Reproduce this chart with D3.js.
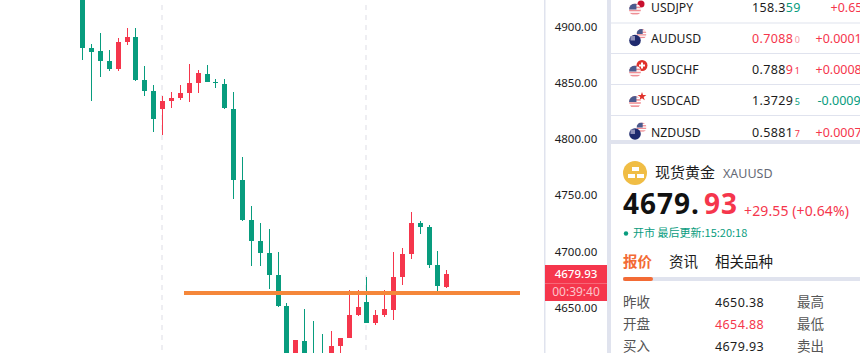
<!DOCTYPE html>
<html><head><meta charset="utf-8">
<style>html,body{margin:0;padding:0;background:#fff;overflow:hidden}svg{display:block}
text{font-family:"Noto Sans","Noto Sans CJK SC",sans-serif}</style>
<script src="https://cdn.jsdelivr.net/npm/d3@7/dist/d3.min.js"></script></head><body>
<svg id="c" width="860" height="353"></svg>
<script>
const opens =[4930,4880.8,4878.1,4869.2,4862.1,4886.2,4890.6,4852.3,4842.5,4826.4,4833.6,4836.3,4840.7,4849.6,4857.6,4850.5,4848.7,4826.4,4763.2,4727.5,4708.8,4698.1,4678.5,4650.9,4598.3,4619.7,4606,4604.5,4601,4615.2,4622.3,4642.8,4654.4,4635.7,4642.8,4647.3,4676.7,4697.2,4724.8,4721.3,4687.4,4667.8];
const highs =[4935,4884.4,4894.2,4879,4889.7,4898.6,4898.6,4864.8,4847.8,4838,4841.6,4847.8,4866.6,4861.2,4865.7,4853.2,4853.2,4841.6,4783.7,4740,4724.8,4719.5,4699,4653.5,4620.6,4648.2,4637.5,4625.9,4628.6,4622.3,4665.1,4665.1,4676.7,4647.3,4665.1,4699,4702.6,4734.6,4726.6,4723,4699.9,4682.9];
const lows  =[4870.1,4833.6,4855,4860.3,4860.3,4883.5,4851.4,4838,4806,4803.3,4827.3,4834.5,4832.7,4840.7,4850.5,4845.2,4826.4,4746.2,4726.6,4686.5,4686.5,4666,4650,4594,4592,4597.4,4595.6,4592,4597.4,4601,4622.3,4642,4635.7,4633.9,4641.1,4638.4,4669.6,4692.8,4715,4684.7,4664.2,4666.9];
const closes=[4881.1,4877.3,4869.2,4862.1,4886.2,4890.6,4852.3,4842.5,4817.5,4833.6,4836.3,4840.7,4849.6,4858.5,4850.5,4849.6,4827.3,4763.2,4727.5,4708.8,4698.1,4678.5,4650.9,4601,4620.6,4602.7,4601,4598.3,4615.2,4622.3,4642.8,4650,4635.7,4642.8,4648.2,4676.7,4697.2,4724.8,4721.3,4687.4,4668.7,4679.4];
const priceTicks=[4900,4850,4800,4750,4700,4650];
const levelPrice=4662.4;
const sessionBreaks=[9,32];
const lastPrice="4679.93", countdown="00:39:40";

const symbols=["USDJPY","AUDUSD","USDCHF","USDCAD","NZDUSD"];
const quoteMain=["158.3","0.7088","0.788","1.3729","0.5881"];
const quoteMid=["59","","9","",""];
const quoteSmall=["","0","1","5","7"];
const changes=["+0.650","+0.0001","+0.0008","-0.0009","+0.0007"];
const statLabelsL=["昨收","开盘","买入"];
const statValues=["4650.38","4654.88","4679.93"];
const statLabelsR=["最高","最低","卖出"];
const tabs=["报价","资讯","相关品种"];

const GREEN="#089c7e",RED="#f5364c",INK="#1c1c1c",RULE="#e0e3ee";
const svg=d3.select("#c");
const n=opens.length;
const x=d3.scaleBand().domain(d3.range(n)).range([77.76,77.76+8.882*n]);
const y=d3.scaleLinear().domain([4900,4650]).range([26.5,307]);
const cx=i=>Math.round(x(i)+x.bandwidth()/2)+.5;
const rows=d3.range(n);

// session separators
svg.append("g").selectAll("line").data(sessionBreaks).join("line")
 .attr("x1",d=>cx(d)-.5).attr("x2",d=>cx(d)-.5).attr("y1",5).attr("y2",352)
 .attr("stroke","#eeeef2").attr("stroke-width",2).attr("stroke-dasharray","5 5");

// candles
const col=i=>closes[i]>=opens[i]?RED:GREEN;
const g=svg.append("g").attr("shape-rendering","crispEdges");
g.selectAll(".w").data(rows).join("line").attr("x1",cx).attr("x2",cx)
 .attr("y1",i=>y(highs[i])).attr("y2",i=>y(lows[i])).attr("stroke",col).attr("stroke-width",1);
g.selectAll(".b").data(rows).join("rect").attr("x",i=>cx(i)-2.5).attr("width",5)
 .attr("y",i=>y(Math.max(opens[i],closes[i])))
 .attr("height",i=>Math.max(1,Math.abs(y(opens[i])-y(closes[i])))).attr("fill",col);

// annotation
svg.append("line").attr("x1",184).attr("x2",520).attr("y1",y(levelPrice)).attr("y2",y(levelPrice))
 .attr("stroke","#f5873a").attr("stroke-width",4);

// right scale
svg.append("rect").attr("x",544).attr("y",0).attr("width",1.5).attr("height",353).attr("fill",RULE);
const ax=svg.append("g").attr("transform","translate(576,0.5)")
 .call(d3.axisRight(y).tickValues(priceTicks).tickFormat(d3.format(".2f")).tickSize(0).tickPadding(0));
ax.select(".domain").remove();
ax.selectAll("text").attr("text-anchor","middle").attr("font-size",11.5).attr("fill",INK)
 .style("font-family",'"Noto Sans",sans-serif');
svg.append("rect").attr("x",545).attr("y",265).attr("width",62).attr("height",36).attr("fill",RED);
svg.append("rect").attr("x",545).attr("y",283).attr("width",62).attr("height",1).attr("fill","#f76677");
svg.append("text").attr("x",576).attr("y",278).attr("text-anchor","middle").attr("font-size",11.5).attr("font-weight",500).attr("fill","#fff").text(lastPrice);
svg.append("text").attr("x",576).attr("y",296).attr("text-anchor","middle").attr("font-size",12).attr("fill","#fcc4cb").text(countdown);

// panel dividers
svg.append("rect").attr("x",607).attr("y",0).attr("width",4).attr("height",353).attr("fill",RULE);
svg.append("rect").attr("x",611).attr("y",140).attr("width",249).attr("height",4).attr("fill",RULE);

// quote table
const rowY=[7,38.5,69.5,100.5,132];
[22.5,53,84,115].forEach(v=>svg.append("rect").attr("x",611).attr("y",v).attr("width",249).attr("height",1).attr("fill",RULE));
const defs=svg.append("defs");
function us(cxx,cyy,r,id){
 const p=defs.append("clipPath").attr("id",id);p.append("circle").attr("cx",cxx).attr("cy",cyy).attr("r",r);
 const f=svg.append("g").attr("clip-path",`url(#${id})`);
 f.append("circle").attr("cx",cxx).attr("cy",cyy).attr("r",r).attr("fill","#fff");
 for(let k=0;k<4;k++)f.append("rect").attr("x",cxx-r).attr("y",cyy-r+k*r*.52).attr("width",2*r).attr("height",r*.26).attr("fill","#ef8f95");
 f.append("rect").attr("x",cxx-r).attr("y",cyy-r).attr("width",2*r*.62).attr("height",r).attr("fill","#4a5a8e");
}
function nz(cxx,cyy){svg.append("circle").attr("cx",cxx).attr("cy",cyy).attr("r",5.8).attr("fill","#1f2a6e");
 svg.append("rect").attr("x",cxx-4.5).attr("y",cyy-4.5).attr("width",4.5).attr("height",4.5).attr("fill","#8f90b8");}
symbols.forEach((s,i)=>{
 const ry=rowY[i]+2;
 if(i==0){svg.append("circle").attr("cx",641).attr("cy",4).attr("r",3.5).attr("fill","#c8102e");us(635,ry+.5,6,"f0");}
 if(i==1||i==4){us(641.5,ry-6.5,5,"f"+i);nz(635,ry);}
 if(i==2){svg.append("circle").attr("cx",642).attr("cy",ry-6).attr("r",5.5).attr("fill","#e0322c");
   svg.append("rect").attr("x",639).attr("y",ry-7).attr("width",6).attr("height",2).attr("fill","#fff");
   svg.append("rect").attr("x",641).attr("y",ry-9).attr("width",2).attr("height",6).attr("fill","#fff");us(635,ry,6,"f2");}
 if(i==3){svg.append("path").attr("d",d3.symbol(d3.symbolStar,24)()).attr("transform",`translate(642,${ry-6})`).attr("fill","#e0322c");us(635,ry-.5,6,"f3");}
 svg.append("text").attr("x",651).attr("y",rowY[i]+4.5).attr("font-size",12.2).attr("fill",INK).text(s);
 const q=svg.append("text").attr("x",752).attr("y",rowY[i]+4.5).attr("font-size",12.5).attr("letter-spacing",.35);
 q.append("tspan").attr("fill",i==1?RED:INK).text(quoteMain[i]);
 const tone=changes[i][0]=="-"||i==0?GREEN:RED;
 if(quoteMid[i])q.append("tspan").attr("fill",i==0?GREEN:RED).text(quoteMid[i]);
 if(quoteSmall[i])q.append("tspan").attr("dx",1.5).attr("font-size",9).attr("fill",i==1?"#f79aa5":tone).text(quoteSmall[i]);
 svg.append("text").attr("x",i==0?830.5:i==3?817.5:815.5).attr("y",rowY[i]+4.5).attr("font-size",12.5)
  .attr("fill",changes[i][0]=="-"?GREEN:RED).text(changes[i]);
});

// instrument header
svg.append("circle").attr("cx",635).attr("cy",173).attr("r",12).attr("fill","#f0bd45");
[[632,167,6],[628,174,6],[637,174,6]].forEach(d=>svg.append("rect").attr("x",d[0]).attr("y",d[1]).attr("width",d[2]+1).attr("height",4).attr("fill","#fff"));
svg.append("text").attr("x",655).attr("y",178).attr("font-size",15).attr("fill",INK).style("font-family",'"Noto Sans CJK SC"').text("现货黄金");
svg.append("text").attr("x",723).attr("y",178).attr("font-size",12.5).attr("fill","#666a75").text("XAUUSD");
const pr=svg.append("text").attr("x",623).attr("y",214).attr("font-size",28).attr("font-weight",700).attr("letter-spacing",1);
pr.append("tspan").attr("fill","#111").text("4679.");
pr.append("tspan").attr("dx",4).attr("fill",RED).text("93");
svg.append("text").attr("x",744).attr("y",216).attr("font-size",14).attr("letter-spacing",.12).attr("fill",RED).text("+29.55 (+0.64%)");
svg.append("circle").attr("cx",626).attr("cy",233.5).attr("r",2.2).attr("fill",GREEN);
svg.append("text").attr("x",633).attr("y",237).attr("font-size",11).attr("fill",GREEN).style("font-family",'"Noto Sans CJK SC"').text("开市 最后更新:15:20:18");

// tabs
[623,669,715].forEach((v,i)=>svg.append("text").attr("x",v).attr("y",266.5).attr("font-size",14.5)
 .attr("font-weight",i==0?700:400).attr("fill",i==0?"#f36b35":INK).style("font-family",'"Noto Sans CJK SC"').text(tabs[i]));
svg.append("rect").attr("x",623).attr("y",277).attr("width",237).attr("height",4).attr("fill",RULE);
svg.append("rect").attr("x",623).attr("y",277).attr("width",30).attr("height",4).attr("rx",2).attr("fill","#f36b35");

// stats
const statY=[307,329,350.5];
statLabelsL.forEach((s,i)=>{
 svg.append("text").attr("x",623).attr("y",statY[i]).attr("font-size",13.5).attr("fill","#555").style("font-family",'"Noto Sans CJK SC"').text(s);
 svg.append("text").attr("x",715).attr("y",statY[i]).attr("font-size",12.5).attr("letter-spacing",.4).attr("fill",i==1?RED:INK).text(statValues[i]);
 svg.append("text").attr("x",797).attr("y",statY[i]).attr("font-size",13.5).attr("fill","#555").style("font-family",'"Noto Sans CJK SC"').text(statLabelsR[i]);
});
</script></body></html>
